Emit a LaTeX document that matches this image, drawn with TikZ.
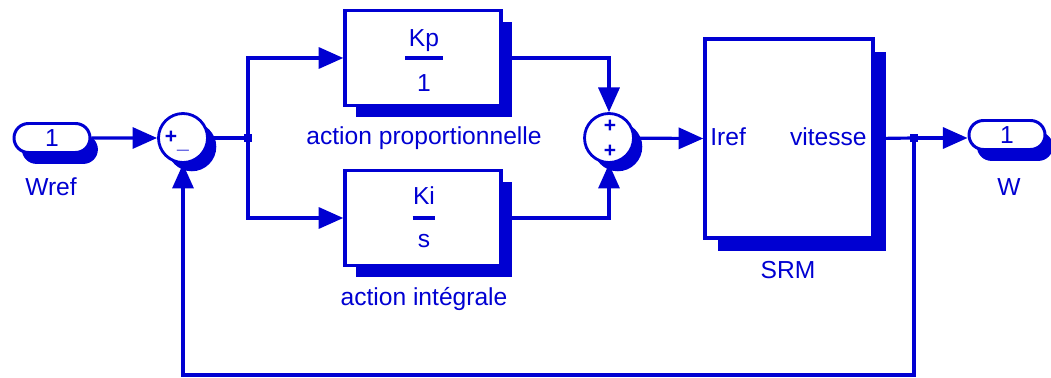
\documentclass[tikz,border=0pt]{standalone}
\usepackage{fontspec}
\setmainfont{Liberation Sans}
\usetikzlibrary{arrows.meta,shapes.misc,shadows}
\definecolor{simblue}{RGB}{0,0,210}

\begin{document}
\begin{tikzpicture}[x=0.02cm, y=-0.02cm, >={Triangle[length=14pt,width=12pt]},
    txt/.style={font=\fontsize{14}{16}\selectfont, text=simblue, inner sep=0pt},
    sgn/.style={font=\fontsize{12}{13}\selectfont\bfseries, text=simblue, inner sep=0pt},
    shad/.style={general shadow={fill=simblue, shadow xshift=#1, shadow yshift=-#1}},
    blk/.style={draw=simblue, line width=2pt, fill=white, inner sep=0pt},
    gain/.style={blk, shad=6.5pt, minimum width=3.12cm, minimum height=1.9cm},
    sumblk/.style={circle, draw=simblue, line width=1.6pt, fill=white, shad=5pt,
        minimum size=0.98cm, inner sep=0pt},
    port/.style={rounded rectangle, draw=simblue, line width=1.7pt, fill=white,
        general shadow={fill=simblue, shadow xshift=4.5pt, shadow yshift=-6.5pt},
        minimum width=1.52cm, minimum height=0.58cm, inner sep=0pt,
        font=\fontsize{14}{16}\selectfont, text=simblue},
    conn/.style={draw=simblue, line width=1.8pt},
    fbar/.style={draw=simblue, line width=1.8pt},
    dot/.style={fill=simblue, minimum size=4pt, inner sep=0pt}
]
\useasboundingbox (0,0) rectangle (1051,378);

% Ports
\node[port] (inp) at (52,138) {1};
\node[txt, anchor=base] (wref) at (51,195) {Wref};
\node[port] (outp) at (1007,135) {1};
\node[txt, anchor=base] (wout) at (1009,195) {W};

% Sommateurs
\node[sumblk] (sum1) at (183,138) {};
\node[sgn] (s1a) at (171,137) {+};
\node[sgn] (s1b) at (183,150) {\_};
\node[sumblk] (sum2) at (609,138) {};
\node[sgn] (s2a) at (610,126) {+};
\node[sgn] (s2b) at (610,151) {+};

% Gains
\node[gain] (kp) at (423,58) {};
\node[txt, anchor=base] (kpn) at (424,47) {Kp};
\node[txt, anchor=base] (kpd) at (424,92) {1};
\draw[fbar] ([xshift=-2pt]kpn.west |- kp.center) -- ([xshift=2pt]kpn.east |- kp.center);
\node[txt, anchor=base] (kplab) at (424,145) {action proportionnelle};

\node[gain] (ki) at (423,218) {};
\node[txt, anchor=base] (kin) at (424,205) {Ki};
\node[txt, anchor=base] (kid) at (424,248) {s};
\draw[fbar] (kin.west |- ki.center) -- (kin.east |- ki.center);
\node[txt, anchor=base] (kilab) at (424,305) {action intégrale};

% Moteur
\node[blk, shad=7.5pt, minimum width=3.36cm, minimum height=3.98cm] (srm) at (789,138.5) {};
\node[txt, anchor=base west] (iref) at (710,146) {Iref};
\node[txt, anchor=base east] (vit) at (867,146) {vitesse};
\node[txt, anchor=base] (srmlab) at (788,278) {SRM};

% Liaisons
\coordinate (br1) at (248,138);
\coordinate (br2) at (914,138);
\coordinate (fb) at (914,375);
\node[dot] (br1dot) at (br1) {};
\node[dot] (br2dot) at (br2) {};

\draw[conn, ->] (inp) -- (sum1);
\draw[conn] (sum1) -- (br1);
\draw[conn, ->] (br1) |- (kp.west);
\draw[conn, ->] (br1) |- (ki.west);
\draw[conn, ->] (kp.east) -| (sum2.north);
\draw[conn, ->] (ki.east) -| (sum2.south);
\draw[conn, ->] (sum2) -- (srm.west);
\draw[conn] (srm.east) -- (br2);
\draw[conn, ->] (br2) -- (br2 -| outp.west);
\draw[conn, ->] (br2) -- (fb) -| (sum1.south);

\end{tikzpicture}
\end{document}
